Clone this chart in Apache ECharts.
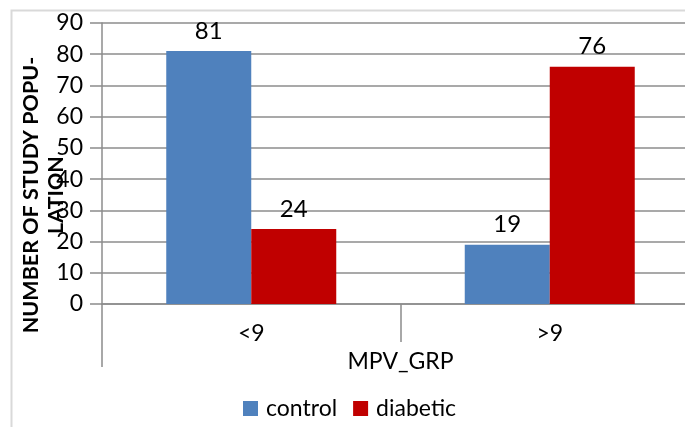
<!DOCTYPE html>
<html>
<head>
<meta charset="utf-8">
<script src="https://cdn.jsdelivr.net/npm/echarts@6/dist/echarts.min.js"></script>
<style>
  html, body { margin: 0; padding: 0; background: #fff; overflow: hidden; }
  /* wider than the window: the original chart is cropped on the right */
  #chart { width: 720px; height: 427px; }
</style>
</head>
<body>
<div id="chart"></div>
<script>
const categories = ['<9', '>9'];
const outerCategory = ['MPV_GRP'];
const controlValues = [81, 19];
const diabeticValues = [24, 76];
const axisTitle = 'NUMBER OF STUDY POPU-\nLATION';

const font = 'Lato, Carlito, sans-serif';
const gridGray = '#8c8c8c';

const chart = echarts.init(document.getElementById('chart'));

const option = {
    backgroundColor: '#fff',
    textStyle: { fontFamily: font, color: '#000' },
    animation: false,
    grid: { left: 102, top: 23, width: 597, height: 281, containLabel: false },
    graphic: [
        {
            type: 'rect',
            shape: { x: 11.5, y: 10.5, width: 740, height: 460 },
            style: { fill: 'none', stroke: '#d9d9d9', lineWidth: 2 },
            silent: true
        },
        {
            type: 'text',
            x: 44,
            y: 195,
            rotation: Math.PI / 2,
            style: {
                text: axisTitle,
                font: 'bold 21.5px ' + font,
                fill: '#000',
                align: 'center',
                verticalAlign: 'middle',
                lineHeight: 25
            }
        }
    ],
    legend: {
        left: 243,
        top: 397,
        padding: 0,
        icon: 'rect',
        itemWidth: 15,
        itemHeight: 15,
        itemGap: 16,
        textStyle: { fontSize: 23, color: '#000', fontFamily: font, padding: [0, 0, 0, 3] },
        data: ['control', 'diabetic']
    },
    xAxis: [
        {
            type: 'category',
            data: categories,
            axisLine: { show: true, lineStyle: { color: gridGray, width: 1.5 } },
            axisTick: { show: true, alignWithLabel: false, length: 38, lineStyle: { color: gridGray, width: 1.5 } },
            axisLabel: { margin: 18, fontSize: 23, color: '#000', fontFamily: font },
            splitLine: { show: false }
        },
        {
            type: 'category',
            data: outerCategory,
            position: 'bottom',
            axisLine: { show: false },
            axisTick: { show: true, alignWithLabel: false, length: 63, lineStyle: { color: gridGray, width: 1.5 } },
            axisLabel: { margin: 46, fontSize: 23, color: '#000', fontFamily: font },
            splitLine: { show: false }
        }
    ],
    yAxis: {
        type: 'value',
        min: 0,
        max: 90,
        interval: 10,
        axisLine: { show: true, lineStyle: { color: gridGray, width: 1.5 } },
        axisTick: { show: true, length: 12, lineStyle: { color: gridGray, width: 1.5 } },
        axisLabel: { margin: 19, fontSize: 23, color: '#000', fontFamily: font },
        splitLine: { show: true, lineStyle: { color: gridGray, width: 1.5 } }
    },
    series: [
        {
            name: 'control',
            type: 'bar',
            data: controlValues,
            barWidth: 85,
            barGap: '0%',
            itemStyle: { color: '#4f81bd' },
            label: { show: true, position: 'top', distance: 8, fontSize: 24, color: '#000', fontFamily: font }
        },
        {
            name: 'diabetic',
            type: 'bar',
            data: diabeticValues,
            barWidth: 85,
            barGap: '0%',
            itemStyle: { color: '#c00000' },
            label: { show: true, position: 'top', distance: 8, fontSize: 24, color: '#000', fontFamily: font }
        }
    ]
};

chart.setOption(option);
</script>
</body>
</html>
